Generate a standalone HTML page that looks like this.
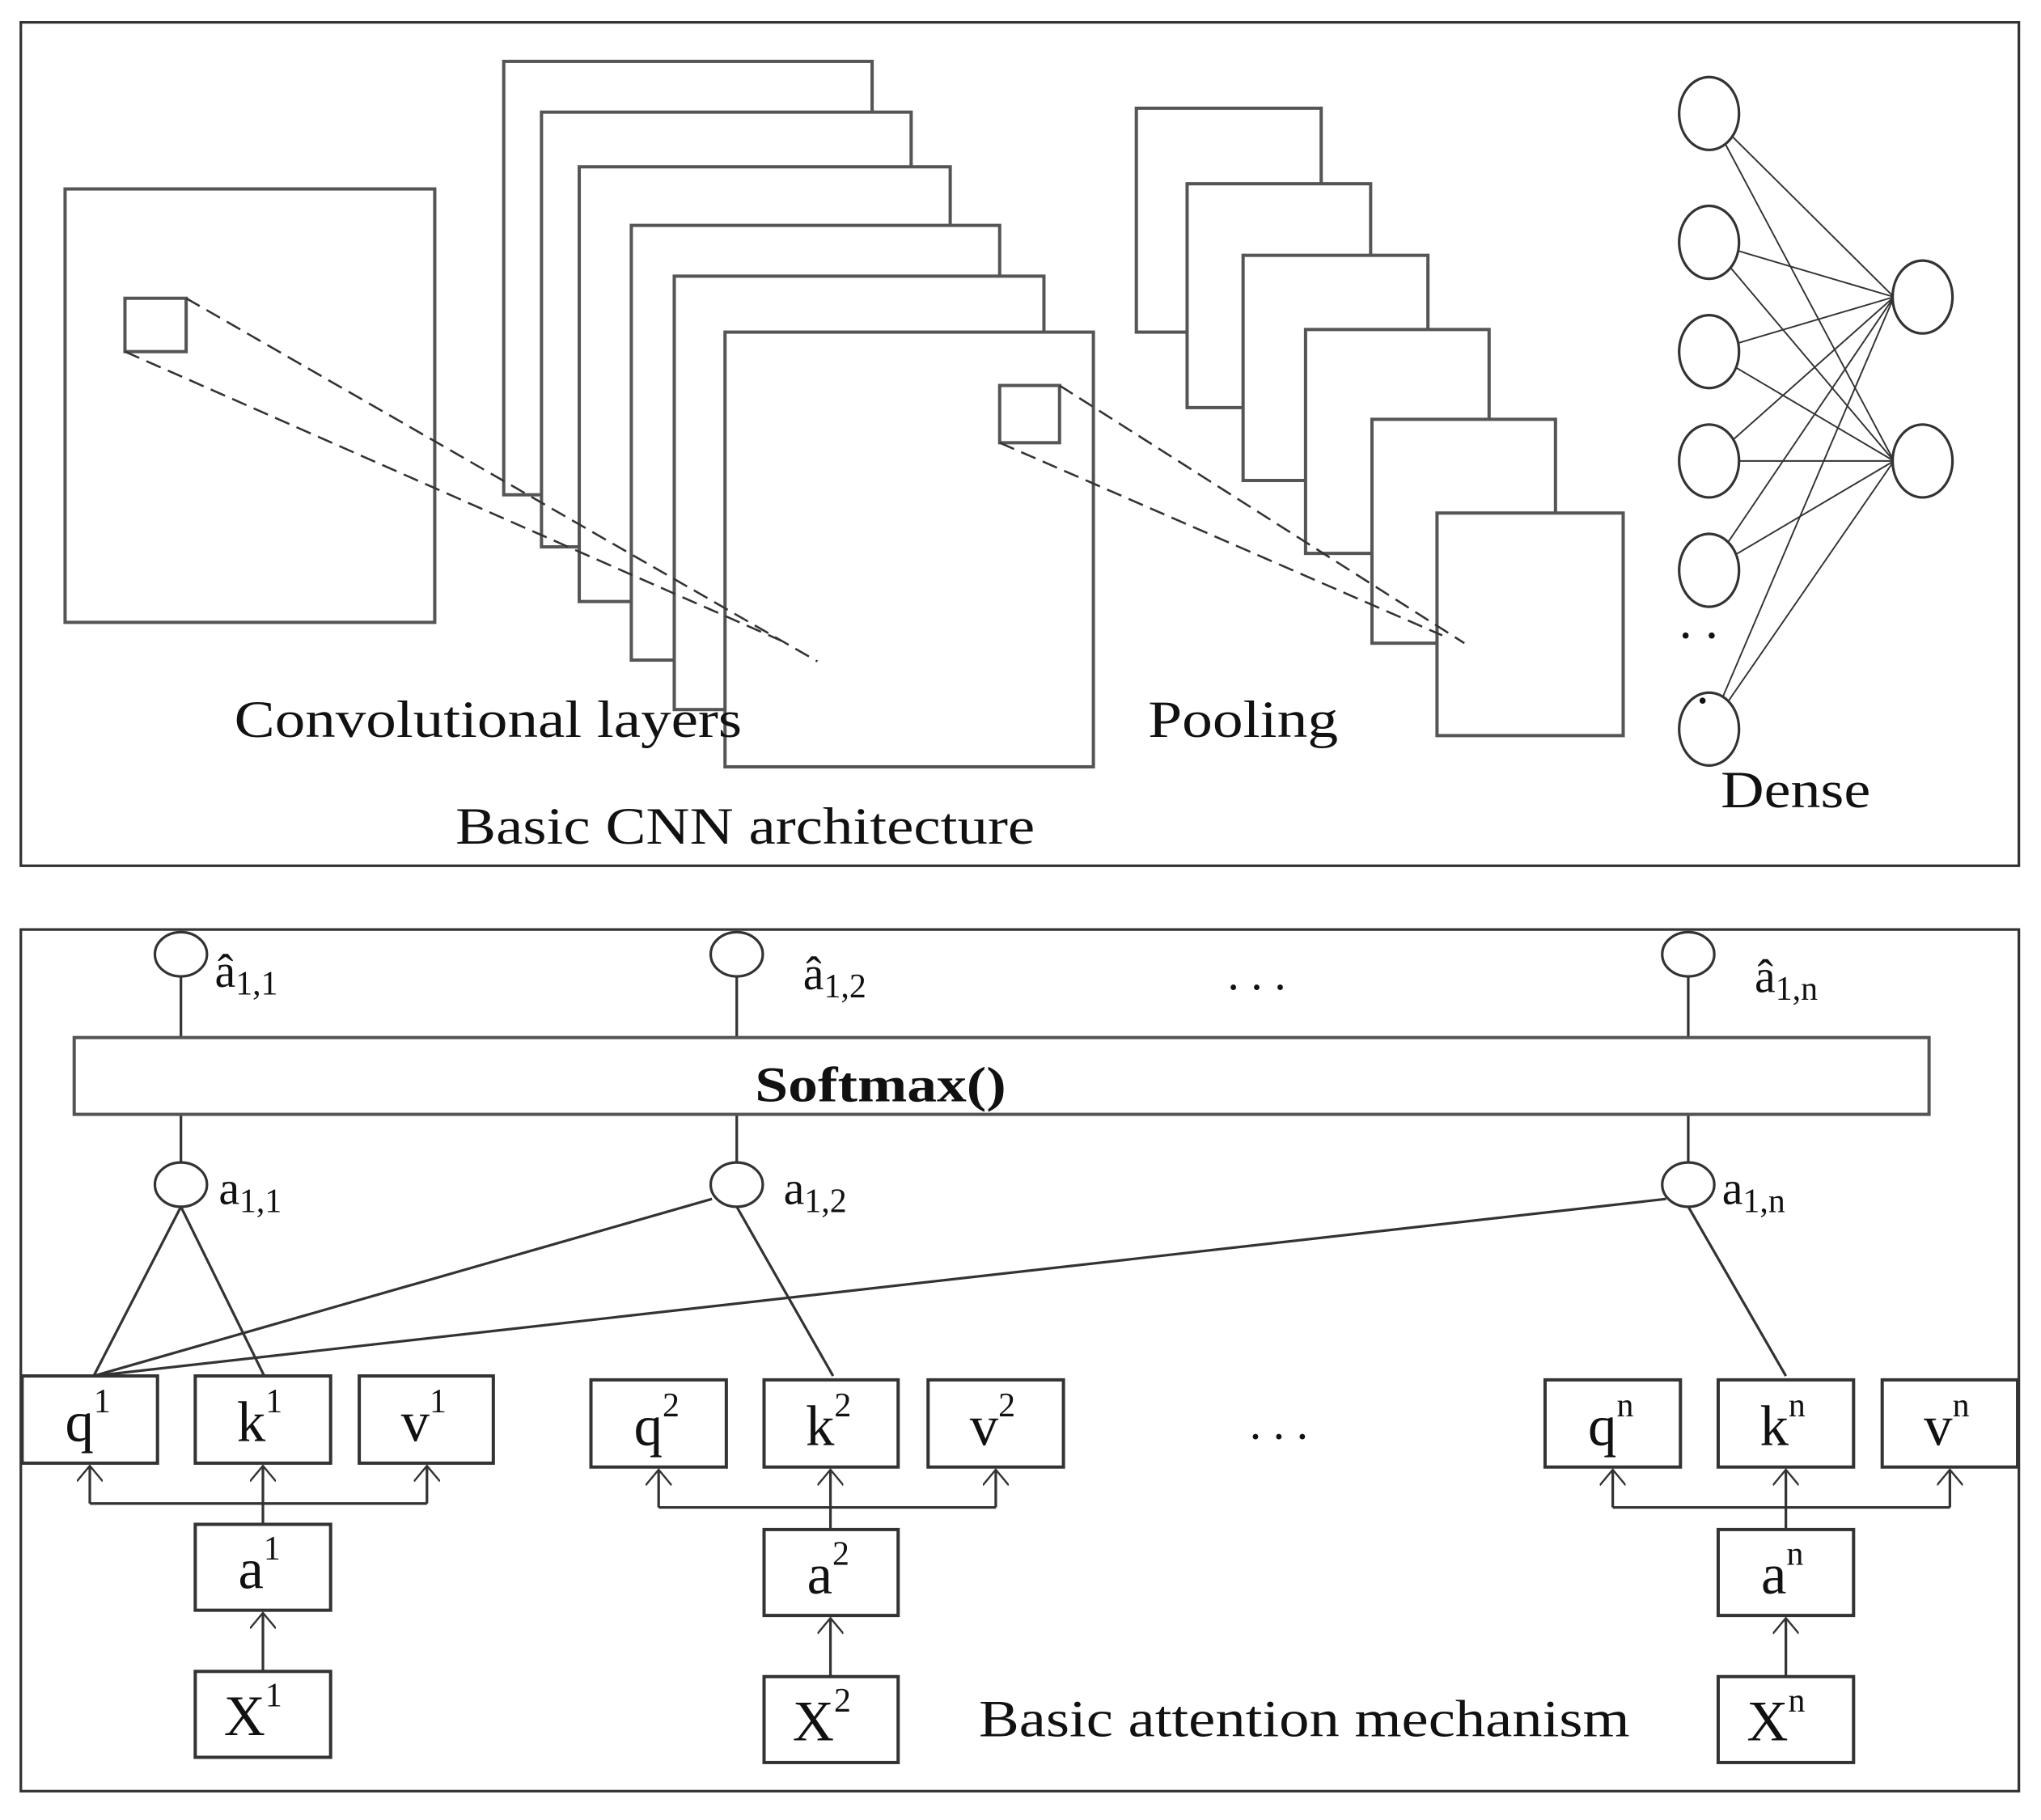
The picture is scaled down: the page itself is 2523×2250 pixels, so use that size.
<!DOCTYPE html>
<html><head><meta charset="utf-8"><style>
html,body{margin:0;padding:0;background:#fff;}
svg{display:block;}
text{font-family:"Liberation Serif",serif;fill:#111;}
</style></head><body>
<svg width="2523" height="2250" viewBox="0 0 1568 1398" xmlns="http://www.w3.org/2000/svg">
<defs>
<marker id="ar" viewBox="0 0 20 14" refX="10" refY="1" markerWidth="20" markerHeight="14" markerUnits="userSpaceOnUse" orient="0">
<path d="M0,13 L10,1 L20,13" fill="none" stroke="#333" stroke-width="1.5"/>
</marker>
</defs>
<g fill="none" stroke="#333" stroke-width="2">
<rect x="16" y="17" width="1535" height="648"/>
<rect x="16" y="714" width="1535" height="662"/>
</g>
<!-- CNN -->
<g fill="#fff" stroke="#555" stroke-width="2.5">
<rect x="50" y="145" width="284" height="333"/>
<rect x="96" y="229" width="47" height="41"/>
<rect x="387" y="47" width="283" height="333"/>
<rect x="416" y="86" width="284" height="334"/>
<rect x="445" y="128" width="285" height="334"/>
<rect x="485" y="173" width="283" height="334"/>
<rect x="518" y="212" width="284" height="333"/>
<rect x="557" y="255" width="283" height="334"/>
<rect x="768" y="296" width="46" height="44"/>
<rect x="873" y="83" width="142" height="172"/>
<rect x="912" y="141" width="141" height="172"/>
<rect x="955" y="196" width="142" height="173"/>
<rect x="1003" y="253" width="141" height="172"/>
<rect x="1054" y="322" width="141" height="172"/>
<rect x="1104" y="394" width="143" height="171"/>
</g>
<g stroke="#333" stroke-width="1.6" stroke-dasharray="12,6" fill="none">
<line x1="143" y1="229" x2="628" y2="508"/>
<line x1="96" y1="270" x2="600" y2="492"/>
<line x1="814" y1="296" x2="1125" y2="494"/>
<line x1="768" y1="340" x2="1108" y2="488"/>
</g>
<g stroke="#333" stroke-width="1.2">
<line x1="1313" y1="87" x2="1455" y2="228"/><line x1="1313" y1="87" x2="1455" y2="354"/>
<line x1="1313" y1="186" x2="1455" y2="228"/><line x1="1313" y1="186" x2="1455" y2="354"/>
<line x1="1313" y1="270" x2="1455" y2="228"/><line x1="1313" y1="270" x2="1455" y2="354"/>
<line x1="1313" y1="354" x2="1455" y2="228"/><line x1="1313" y1="354" x2="1455" y2="354"/>
<line x1="1313" y1="438" x2="1455" y2="228"/><line x1="1313" y1="438" x2="1455" y2="354"/>
<line x1="1313" y1="560" x2="1455" y2="228"/><line x1="1313" y1="560" x2="1455" y2="354"/>
</g>
<g fill="#fff" stroke="#333" stroke-width="2">
<ellipse cx="1313" cy="87" rx="23" ry="28"/>
<ellipse cx="1313" cy="186" rx="23" ry="28"/>
<ellipse cx="1313" cy="270" rx="23" ry="28"/>
<ellipse cx="1313" cy="354" rx="23" ry="28"/>
<ellipse cx="1313" cy="438" rx="23" ry="28"/>
<ellipse cx="1313" cy="560" rx="23" ry="28"/>
<ellipse cx="1477" cy="228" rx="23" ry="28"/>
<ellipse cx="1477" cy="354" rx="23" ry="28"/>
</g>
<text x="1290" y="490" font-size="40">. .</text>
<text x="1303" y="540" font-size="40">.</text>
<text x="180" y="566" font-size="40" textLength="390" lengthAdjust="spacingAndGlyphs">Convolutional layers</text>
<text x="882" y="566" font-size="40" textLength="146" lengthAdjust="spacingAndGlyphs">Pooling</text>
<text x="350" y="648" font-size="40" textLength="445" lengthAdjust="spacingAndGlyphs">Basic CNN architecture</text>
<text x="1322" y="620" font-size="40" textLength="115" lengthAdjust="spacingAndGlyphs">Dense</text>
<!-- attention -->
<g stroke="#333" stroke-width="2" fill="none">
<line x1="139" y1="750" x2="139" y2="797"/><line x1="566" y1="750" x2="566" y2="797"/><line x1="1297" y1="750" x2="1297" y2="797"/>
<line x1="139" y1="856" x2="139" y2="893"/><line x1="566" y1="856" x2="566" y2="893"/><line x1="1297" y1="856" x2="1297" y2="893"/>
<line x1="139" y1="927" x2="72" y2="1057"/><line x1="139" y1="927" x2="203" y2="1057"/>
<line x1="547" y1="921" x2="72" y2="1057"/><line x1="566" y1="927" x2="640" y2="1057"/>
<line x1="1280" y1="921" x2="72" y2="1057"/><line x1="1297" y1="927" x2="1372" y2="1057"/>
</g>
<rect x="57" y="797" width="1425" height="59" fill="#fff" stroke="#555" stroke-width="2.5"/>
<text x="580" y="846" font-size="38" font-weight="bold" textLength="193" lengthAdjust="spacingAndGlyphs">Softmax()</text>
<g fill="#fff" stroke="#333" stroke-width="2">
<ellipse cx="139" cy="733" rx="20" ry="17"/><ellipse cx="566" cy="733" rx="20" ry="17"/><ellipse cx="1297" cy="733" rx="20" ry="17"/>
<ellipse cx="139" cy="910" rx="20" ry="17"/><ellipse cx="566" cy="910" rx="20" ry="17"/><ellipse cx="1297" cy="910" rx="20" ry="17"/>
</g>
<g font-size="36">
<text x="165" y="758">â<tspan font-size="26" dy="6">1,1</tspan></text>
<text x="617" y="760">â<tspan font-size="26" dy="6">1,2</tspan></text>
<text x="1348" y="762">â<tspan font-size="26" dy="6">1,n</tspan></text>
<text x="943" y="760">. . .</text>
<text x="168" y="925">a<tspan font-size="26" dy="6">1,1</tspan></text>
<text x="602" y="925">a<tspan font-size="26" dy="6">1,2</tspan></text>
<text x="1323" y="925">a<tspan font-size="26" dy="6">1,n</tspan></text>
<text x="960" y="1105">. . .</text>
</g>
<g stroke="#333" stroke-width="2" fill="none">
<polyline points="69,1155 328,1155"/><line x1="69" y1="1155" x2="69" y2="1126" marker-end="url(#ar)"/><line x1="328" y1="1155" x2="328" y2="1126" marker-end="url(#ar)"/><line x1="202" y1="1171" x2="202" y2="1126" marker-end="url(#ar)"/><line x1="202" y1="1284" x2="202" y2="1239" marker-end="url(#ar)"/>
<polyline points="506,1158 765,1158"/><line x1="506" y1="1158" x2="506" y2="1129" marker-end="url(#ar)"/><line x1="765" y1="1158" x2="765" y2="1129" marker-end="url(#ar)"/><line x1="638" y1="1175" x2="638" y2="1129" marker-end="url(#ar)"/><line x1="638" y1="1288" x2="638" y2="1243" marker-end="url(#ar)"/>
<polyline points="1239,1158 1498,1158"/><line x1="1239" y1="1158" x2="1239" y2="1129" marker-end="url(#ar)"/><line x1="1498" y1="1158" x2="1498" y2="1129" marker-end="url(#ar)"/><line x1="1372" y1="1175" x2="1372" y2="1129" marker-end="url(#ar)"/><line x1="1372" y1="1288" x2="1372" y2="1243" marker-end="url(#ar)"/>
</g>
<g fill="#fff" stroke="#333" stroke-width="2.5">
<rect x="17" y="1057" width="104" height="67"/><rect x="150" y="1057" width="104" height="67"/><rect x="276" y="1057" width="103" height="67"/>
<rect x="454" y="1060" width="104" height="67"/><rect x="587" y="1060" width="103" height="67"/><rect x="713" y="1060" width="104" height="67"/>
<rect x="1187" y="1060" width="104" height="67"/><rect x="1320" y="1060" width="104" height="67"/><rect x="1446" y="1060" width="104" height="67"/>
<rect x="150" y="1171" width="104" height="66"/><rect x="587" y="1175" width="103" height="66"/><rect x="1320" y="1175" width="104" height="66"/>
<rect x="150" y="1284" width="104" height="66"/><rect x="587" y="1288" width="103" height="66"/><rect x="1320" y="1288" width="104" height="66"/>
</g>
<g font-size="44">
<text x="50" y="1107">q<tspan font-size="26" dy="-22">1</tspan></text>
<text x="182" y="1107">k<tspan font-size="26" dy="-22">1</tspan></text>
<text x="308" y="1107">v<tspan font-size="26" dy="-22">1</tspan></text>
<text x="487" y="1110">q<tspan font-size="26" dy="-22">2</tspan></text>
<text x="619" y="1110">k<tspan font-size="26" dy="-22">2</tspan></text>
<text x="745" y="1110">v<tspan font-size="26" dy="-22">2</tspan></text>
<text x="1220" y="1110">q<tspan font-size="26" dy="-22">n</tspan></text>
<text x="1352" y="1110">k<tspan font-size="26" dy="-22">n</tspan></text>
<text x="1478" y="1110">v<tspan font-size="26" dy="-22">n</tspan></text>
<text x="183" y="1220">a<tspan font-size="26" dy="-22">1</tspan></text>
<text x="620" y="1224">a<tspan font-size="26" dy="-22">2</tspan></text>
<text x="1353" y="1224">a<tspan font-size="26" dy="-22">n</tspan></text>
<text x="172" y="1333">X<tspan font-size="26" dy="-22">1</tspan></text>
<text x="609" y="1337">X<tspan font-size="26" dy="-22">2</tspan></text>
<text x="1342" y="1337">X<tspan font-size="26" dy="-22">n</tspan></text>
</g>
<text x="752" y="1334" font-size="40" textLength="500" lengthAdjust="spacingAndGlyphs">Basic attention mechanism</text>
</svg>
</body></html>
